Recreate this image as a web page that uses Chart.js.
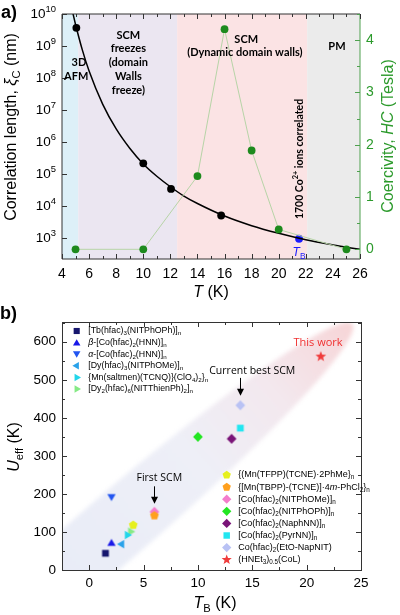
<!DOCTYPE html>
<html>
<head>
<meta charset="utf-8">
<script src="https://cdn.jsdelivr.net/npm/chart.js@4.4.0/dist/chart.umd.min.js"></script>
<style>
  html, body { margin: 0; padding: 0; background: #fff; }
  body { width: 400px; height: 615px; position: relative; overflow: hidden; }
  canvas { position: absolute; left: 0; }
  #ca { top: 0; }
  #cb { top: 300px; }
</style>
</head>
<body>
<canvas id="ca" width="400" height="310"></canvas>
<canvas id="cb" width="400" height="315"></canvas>
<script>
// ---------- panel a: correlation length + coercivity ----------
const curveT = [4.8, 5.0, 5.5, 6, 7, 8, 9, 10, 11, 12, 13, 14, 16, 18, 20, 22, 24, 26];
const curveXi = [1.07e10, 4.7e9, 7.6e8, 1.66e8, 1.55e7, 2.6e6, 6.5e5, 2.1e5, 8.7e4, 4.1e4, 2.1e4, 1.23e4, 5.0e3, 2.5e3, 1.45e3, 910, 630, 457];
const xiT = [5.06, 10, 12.05, 15.75];
const xiVal = [3.7e9, 2.2e5, 3.5e4, 5.2e3];
const tbT = [21.5];
const tbXi = [980];
const hcT = [5, 10, 14, 16, 18, 20, 25];
const hcVal = [0, 0, 1.4, 4.21, 1.89, 0.38, 0];
const regionEdges = [4, 5.2, 12.5, 22.1, 26];
const regionColors = ["#ddf0f8", "#ebe6f1", "#fbe3e4", "#ebebeb"];
const xTicksA = [4, 6, 8, 10, 12, 14, 16, 18, 20, 22, 24, 26];
const logExpA = [3, 4, 5, 6, 7, 8, 9, 10];
const hcTicks = [0, 1, 2, 3, 4];

// ---------- panel b: Ueff vs TB ----------
const compounds = [
  "[Tb(hfac)_{3}(NITPhOPh)]_{n}",
  "~β~-[Co(hfac)_{2}(HNN)]_{n}",
  "~α~-[Co(hfac)_{2}(HNN)]_{n}",
  "[Dy(hfac)_{3}(NITPhOMe)]_{n}",
  "{Mn(saltmen)(TCNQ)}(ClO_{4})_{2}}_{n}",
  "[Dy_{2}(hfac)_{6}(NITThienPh)_{2}]_{n}",
  "{(Mn(TFPP)(TCNE)·2PhMe}_{n}",
  "{[Mn(TBPP)-(TCNE)]·4~m~-PhCl_{2}}_{n}",
  "[Co(hfac)_{2}(NITPhOMe)]_{n}",
  "[Co(hfac)_{2}(NITPhOPh)]_{n}",
  "[Co(hfac)_{2}(NaphNN)]_{n}",
  "[Co(hfac)_{2}(PyrNN)]_{n}",
  "Co(hfac)_{2}(EtO-NapNIT)",
  "(HNEt_{3})_{0.5}(CoL)"
];
const tB = [1.5, 2.05, 2.05, 3.0, 3.5, 3.8, 4.05, 6.0, 6.0, 10.0, 13.1, 13.9, 13.9, 21.3];
const uEff = [44, 72, 191, 68, 92, 101, 118, 143, 153, 350, 345, 373, 433, 561];
const xTicksB = [0, 5, 10, 15, 20, 25];
const yTicksB = [0, 100, 200, 300, 400, 500, 600];

// marker styles (per compound)
const mShapes = ["square", "triUp", "triDown", "triLeft", "triRight", "triRight", "pentagon", "pentagon",
  "diamond", "diamond", "diamond", "square", "diamond", "star"];
const mColors = ["#16166e", "#1818e8", "#2255f0", "#2aa2ea", "#22d6ea", "#86ea86", "#e6f01e", "#ffa01e",
  "#f47ccc", "#22e622", "#7a1478", "#22e6f0", "#b9c2f4", "#f03c3c"];
const mSizes = { square: 3.4, triUp: 4.8, triDown: 4.8, triLeft: 4.8, triRight: 4.8, pentagon: 4.6, diamond: 4.9, star: 5.6 };

const AXFONT = "Liberation Sans, Arial, sans-serif";

// rich text: _{sub} ^{sup} ~italic~
function richRuns(s) {
  const runs = [];
  let italic = false;
  s.split(/(_\{[^}]*\}|\^\{[^}]*\}|~)/).forEach((p) => {
    if (!p) return;
    if (p === "~") { italic = !italic; return; }
    if (p.startsWith("_{")) runs.push({ t: p.slice(2, -1), mode: "sub", italic });
    else if (p.startsWith("^{")) runs.push({ t: p.slice(2, -1), mode: "sup", italic });
    else runs.push({ t: p, mode: "n", italic });
  });
  return runs;
}

function drawRich(ctx, s, x, y, o) {
  const size = o.size;
  const fam = o.family || AXFONT;
  const weight = o.weight || "normal";
  const runs = richRuns(s);
  const fontFor = (r) => `${r.italic ? "italic " : ""}${weight} ${r.mode === "n" ? size : size * 0.7}px ${fam}`;
  let total = 0;
  runs.forEach((r) => { ctx.font = fontFor(r); r.w = ctx.measureText(r.t).width; total += r.w; });
  let cx = x;
  if (o.align === "center") cx -= total / 2;
  else if (o.align === "right") cx -= total;
  ctx.fillStyle = o.color || "#000";
  ctx.textAlign = "left";
  ctx.textBaseline = "middle";
  runs.forEach((r) => {
    ctx.font = fontFor(r);
    const dy = r.mode === "sub" ? size * 0.3 : r.mode === "sup" ? -size * 0.4 : 0;
    ctx.fillText(r.t, cx, y + dy);
    cx += r.w;
  });
}

function drawRotated(ctx, s, x, y, o) {
  ctx.save();
  ctx.translate(x, y);
  ctx.rotate(-Math.PI / 2);
  drawRich(ctx, s, 0, 0, Object.assign({ align: "center" }, o));
  ctx.restore();
}

function markerPath(g, shape, cx, cy, r) {
  g.beginPath();
  if (shape === "square") {
    g.rect(cx - r, cy - r, 2 * r, 2 * r);
  } else if (shape === "diamond") {
    g.moveTo(cx, cy - r); g.lineTo(cx + r, cy); g.lineTo(cx, cy + r); g.lineTo(cx - r, cy);
  } else if (shape.startsWith("tri")) {
    const rot = { triUp: 0, triRight: 90, triDown: 180, triLeft: 270 }[shape] * Math.PI / 180;
    for (let k = 0; k < 3; k++) {
      const a = rot - Math.PI / 2 + k * 2 * Math.PI / 3;
      const px = cx + r * Math.cos(a), py = cy + r * Math.sin(a) + (shape === "triUp" ? r * 0.2 : shape === "triDown" ? -r * 0.2 : 0);
      k ? g.lineTo(px, py) : g.moveTo(px, py);
    }
  } else if (shape === "pentagon") {
    for (let k = 0; k < 5; k++) {
      const a = -Math.PI / 2 + k * 2 * Math.PI / 5;
      k ? g.lineTo(cx + r * Math.cos(a), cy + r * Math.sin(a)) : g.moveTo(cx + r * Math.cos(a), cy + r * Math.sin(a));
    }
  } else if (shape === "star") {
    for (let k = 0; k < 10; k++) {
      const a = -Math.PI / 2 + k * Math.PI / 5;
      const rr = k % 2 ? r * 0.42 : r;
      k ? g.lineTo(cx + rr * Math.cos(a), cy + rr * Math.sin(a)) : g.moveTo(cx + rr * Math.cos(a), cy + rr * Math.sin(a));
    }
  }
  g.closePath();
}

function markerCanvas(shape, color, r) {
  const c = document.createElement("canvas");
  const n = 2 * Math.ceil(r) + 4;
  c.width = n; c.height = n;
  const g = c.getContext("2d");
  g.fillStyle = color;
  markerPath(g, shape, n / 2, n / 2, r);
  g.fill();
  return c;
}

function line(ctx, x1, y1, x2, y2) {
  ctx.beginPath(); ctx.moveTo(x1, y1); ctx.lineTo(x2, y2); ctx.stroke();
}

function arrow(ctx, x, y1, y2) {
  ctx.strokeStyle = "#000"; ctx.fillStyle = "#000"; ctx.lineWidth = 1;
  line(ctx, x, y1, x, y2 - 5);
  ctx.beginPath(); ctx.moveTo(x - 3.5, y2 - 7); ctx.lineTo(x + 3.5, y2 - 7); ctx.lineTo(x, y2); ctx.closePath(); ctx.fill();
}

// ---------- panel a plugin ----------
const panelA = {
  id: "panelA",
  beforeDatasetsDraw(chart) {
    const { ctx, chartArea: a, scales } = chart;
    ctx.save();
    for (let i = 0; i < regionColors.length; i++) {
      const x0 = scales.x.getPixelForValue(regionEdges[i]);
      const x1 = scales.x.getPixelForValue(regionEdges[i + 1]);
      ctx.fillStyle = regionColors[i];
      ctx.fillRect(x0, a.top, x1 - x0, a.bottom - a.top);
    }
    ctx.restore();
  },
  afterDraw(chart) {
    const { ctx, chartArea: a, scales } = chart;
    const xs = scales.x, ys = scales.y, y2 = scales.y2;
    ctx.save();
    ctx.lineWidth = 1;
    // frame
    ctx.strokeStyle = "#333";
    line(ctx, a.left, a.top, a.right, a.top);
    line(ctx, a.left, a.bottom, a.right, a.bottom);
    line(ctx, a.left, a.top, a.left, a.bottom);
    ctx.strokeStyle = "#4ea04e";
    line(ctx, a.right, a.top, a.right, a.bottom);
    // x ticks (top + bottom, inward)
    ctx.strokeStyle = "#333";
    for (let t = xs.min; t <= xs.max; t += 1) {
      const px = Math.round(xs.getPixelForValue(t)) + 0.5;
      const len = t % 2 === 0 ? 5 : 3;
      line(ctx, px, a.bottom, px, a.bottom - len);
      line(ctx, px, a.top, px, a.top + len);
    }
    xTicksA.forEach((t) => drawRich(ctx, String(t), xs.getPixelForValue(t), a.bottom + 15, { size: 14, align: "center" }));
    // left log ticks
    logExpA.forEach((e) => {
      const py = Math.round(ys.getPixelForValue(Math.pow(10, e))) + 0.5;
      line(ctx, a.left, py, a.left + 5, py);
      drawRich(ctx, "10^{" + e + "}", a.left - 6, py, { size: 13.5, align: "right" });
    });
    // right coercivity ticks
    ctx.strokeStyle = "#4ea04e";
    for (let v = 0; v <= 4.5; v += 0.5) {
      const py = Math.round(y2.getPixelForValue(v)) + 0.5;
      line(ctx, a.right, py, a.right - (v % 1 === 0 ? 5 : 3), py);
    }
    hcTicks.forEach((v) => drawRich(ctx, String(v), a.right + 6, y2.getPixelForValue(v), { size: 14, color: "#2c9a2c" }));
    // axis titles
    drawRotated(ctx, "Correlation length, ~ξ~_{C} (nm)", 12, 127, { size: 16 });
    drawRotated(ctx, "Coercivity, ~HC~ (Tesla)", 389, 136, { size: 16, color: "#2c9a2c" });
    drawRich(ctx, "~T~ (K)", (a.left + a.right) / 2, 293, { size: 16, align: "center" });
    drawRich(ctx, "a)", 1, 13, { size: 18, weight: "bold" });
    // region labels
    const lab = { size: 11, weight: "bold", family: "Lato, sans-serif", align: "center" };
    drawRich(ctx, "3D", xs.getPixelForValue(5.25), 62, lab);
    drawRich(ctx, "AFM", xs.getPixelForValue(5.05), 76, lab);
    ["SCM", "freezes", "(domain", "Walls", "freeze)"].forEach((s, i) =>
      drawRich(ctx, s, xs.getPixelForValue(8.9), 35 + i * 13.8, lab));
    drawRich(ctx, "SCM", xs.getPixelForValue(17.6), 39, lab);
    drawRich(ctx, "(Dynamic domain walls)", xs.getPixelForValue(17.5), 52.5, lab);
    drawRich(ctx, "PM", xs.getPixelForValue(24.3), 46, lab);
    drawRotated(ctx, "1700 Co^{2+} ions correlated", xs.getPixelForValue(21.55), 159, { size: 10.5, weight: "bold", family: "Lato, sans-serif" });
    drawRich(ctx, "~T~_{B}", xs.getPixelForValue(21.5), 253, { size: 12, color: "#1a1aff", align: "center" });
    ctx.restore();
  }
};

const pt = (xs, ys) => xs.map((x, i) => ({ x, y: ys[i] }));

new Chart(document.getElementById("ca"), {
  type: "line",
  data: {
    datasets: [
      { data: pt(hcT, hcVal), yAxisID: "y2", borderColor: "#b7d4a7", borderWidth: 1, tension: 0,
        pointRadius: 3.9, pointBackgroundColor: "#1d8a1d", pointBorderWidth: 0 },
      { data: pt(curveT, curveXi), yAxisID: "y", borderColor: "#000", borderWidth: 1.5,
        pointRadius: 0, cubicInterpolationMode: "monotone" },
      { data: pt(xiT, xiVal), yAxisID: "y", showLine: false, pointRadius: 3.9,
        pointBackgroundColor: "#000", pointBorderWidth: 0 },
      { data: pt(tbT, tbXi), yAxisID: "y", showLine: false, pointRadius: 3.9,
        pointBackgroundColor: "#1a1aff", pointBorderWidth: 0 }
    ]
  },
  options: {
    responsive: false,
    animation: false,
    events: [],
    layout: { padding: { top: 14, left: 0, right: 0, bottom: 0 } },
    plugins: { legend: { display: false }, tooltip: { enabled: false } },
    scales: {
      x: { type: "linear", min: 4, max: 26, ticks: { display: false }, grid: { display: false }, border: { display: false },
        afterFit: (s) => { s.height = 51; } },
      y: { type: "logarithmic", min: 229, max: 1e10, position: "left", ticks: { display: false }, grid: { display: false }, border: { display: false },
        afterFit: (s) => { s.width = 62; } },
      y2: { type: "linear", min: -0.185, max: 4.5, position: "right", ticks: { display: false }, grid: { display: false }, border: { display: false },
        afterFit: (s) => { s.width = 40; } }
    }
  },
  plugins: [panelA]
});

// ---------- panel b plugin ----------
const panelB = {
  id: "panelB",
  beforeDatasetsDraw(chart) {
    const { ctx, chartArea: a, scales } = chart;
    const xs = scales.x, ys = scales.y;
    // shaded trend band, from lower-left to the tip near "This work"
    const cx = xs.getPixelForValue(2.0), cy = ys.getPixelForValue(100);
    const tx = xs.getPixelForValue(24.2), ty = ys.getPixelForValue(647);
    const A = Math.hypot(tx - cx, ty - cy), ang = Math.atan2(ty - cy, tx - cx);
    ctx.save();
    ctx.beginPath(); ctx.rect(a.left, a.top, a.right - a.left, a.bottom - a.top); ctx.clip();
    const g = ctx.createLinearGradient(cx - (tx - cx) * 0.3, cy - (ty - cy) * 0.3, tx, ty);
    g.addColorStop(0, "#e8ecf7");
    g.addColorStop(0.5, "#eeeff7");
    g.addColorStop(0.75, "#f3e8ee");
    g.addColorStop(1, "#f7d5d7");
    ctx.filter = "blur(2px)";
    ctx.fillStyle = g;
    ctx.beginPath();
    ctx.ellipse(cx, cy, A, 34, ang, 0, Math.PI * 2);
    ctx.fill();
    ctx.restore();
  },
  afterDraw(chart) {
    const { ctx, chartArea: a, scales } = chart;
    const xs = scales.x, ys = scales.y;
    ctx.save();
    ctx.lineWidth = 1;
    ctx.strokeStyle = "#333";
    ctx.strokeRect(Math.round(a.left) + 0.5, Math.round(a.top) + 0.5, Math.round(a.right - a.left), Math.round(a.bottom - a.top));
    for (let t = xs.min; t <= xs.max + 0.01; t += 2.5) {
      const px = Math.round(xs.getPixelForValue(t)) + 0.5;
      const len = Math.abs(t % 5) < 0.01 ? 5 : 3;
      line(ctx, px, a.bottom, px, a.bottom - len);
      line(ctx, px, a.top, px, a.top + len);
    }
    for (let v = ys.min; v <= ys.max; v += 50) {
      const py = Math.round(ys.getPixelForValue(v)) + 0.5;
      const len = v % 100 === 0 ? 5 : 3;
      line(ctx, a.left, py, a.left + len, py);
      line(ctx, a.right, py, a.right - len, py);
    }
    xTicksB.forEach((t) => drawRich(ctx, String(t), xs.getPixelForValue(t), a.bottom + 13, { size: 13.5, align: "center" }));
    yTicksB.forEach((v) => drawRich(ctx, String(v), a.left - 6, ys.getPixelForValue(v), { size: 13.5, align: "right" }));
    drawRotated(ctx, "~U~_{eff} (K)", 15, 147, { size: 16 });
    drawRich(ctx, "~T~_{B} (K)", 215, 304, { size: 16, align: "center" });
    drawRich(ctx, "b)", 0, 14, { size: 18, weight: "bold" });
    // annotations
    const ann = { size: 10.5, family: "Open Sans, sans-serif", align: "center" };
    drawRich(ctx, "This work", xs.getPixelForValue(21.05), ys.getPixelForValue(598), Object.assign({}, ann, { size: 11, color: "#f03030" }));
    drawRich(ctx, "Current best SCM", xs.getPixelForValue(15.0), ys.getPixelForValue(522), ann);
    arrow(ctx, Math.round(xs.getPixelForValue(13.9)) + 0.5, ys.getPixelForValue(505), ys.getPixelForValue(458));
    drawRich(ctx, "First SCM", xs.getPixelForValue(6.45), ys.getPixelForValue(243), ann);
    arrow(ctx, Math.round(xs.getPixelForValue(6.0)) + 0.5, ys.getPixelForValue(220), ys.getPixelForValue(174));
    // legends
    compounds.forEach((name, i) => {
      const first = i < 6;
      const mx = first ? 76.7 : 226.7;
      const my = first ? 31 + i * 11.6 : 175 + (i - 6) * 12.1;
      ctx.fillStyle = mColors[i];
      markerPath(ctx, mShapes[i], mx, my, mSizes[mShapes[i]] * (first ? 0.9 : 0.95));
      ctx.fill();
      drawRich(ctx, name, first ? 88.3 : 238.3, my, { size: first ? 8.8 : 9 });
    });
    ctx.restore();
  }
};

new Chart(document.getElementById("cb"), {
  type: "scatter",
  data: {
    datasets: compounds.map((name, i) => ({
      label: name,
      data: [{ x: tB[i], y: uEff[i] }],
      pointStyle: markerCanvas(mShapes[i], mColors[i], mSizes[mShapes[i]]),
      pointRadius: 4
    }))
  },
  options: {
    responsive: false,
    animation: false,
    events: [],
    layout: { padding: { top: 22, left: 0, right: 39, bottom: 0 } },
    plugins: { legend: { display: false }, tooltip: { enabled: false } },
    scales: {
      x: { type: "linear", min: -2.5, max: 25, ticks: { display: false }, grid: { display: false }, border: { display: false },
        afterFit: (s) => { s.height = 45; } },
      y: { type: "linear", min: 0, max: 652, ticks: { display: false }, grid: { display: false }, border: { display: false },
        afterFit: (s) => { s.width = 62; } }
    }
  },
  plugins: [panelB]
});
</script>
</body>
</html>
